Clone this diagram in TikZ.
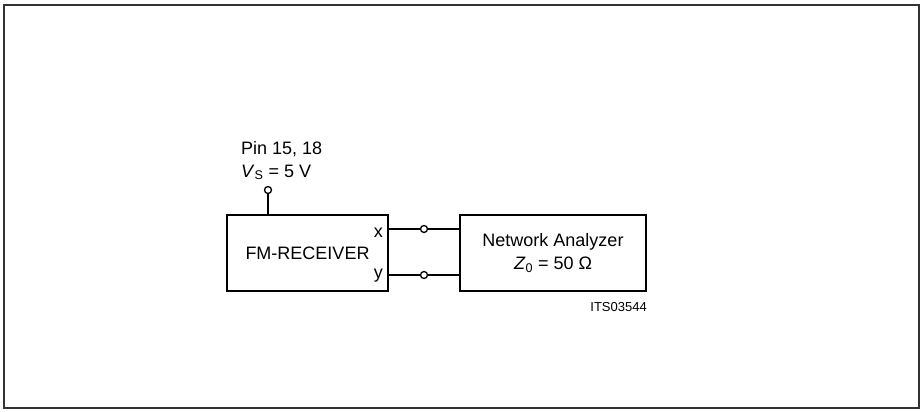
\documentclass[tikz,border=0pt]{standalone}
\usepackage{fontspec}
\setmainfont{Liberation Sans}
\usetikzlibrary{positioning, calc}

\begin{document}
\begin{tikzpicture}[
    x=1pt, y=-1pt,
    font=\fontsize{18}{21}\selectfont,
    block/.style={draw, line width=2pt, rectangle, minimum height=76pt, align=center, inner sep=0pt},
    term/.style={draw, line width=1.3pt, circle, fill=white, minimum size=7pt, inner sep=0pt},
    wire/.style={line width=1.5pt},
    lbl/.style={inner sep=0pt}
]
    \useasboundingbox (0,0) rectangle (923,412);
    \draw[line width=1.2pt, black!80] (4,5) rectangle (919,408);

    % Blocks
    \node[block, minimum width=161pt] (rx) at (307.5,253) {FM-RECEIVER};
    \node[block, minimum width=186pt] (na) [right=70pt of rx] {Network Analyzer\\[2pt]\textit{Z}\textsubscript{0} = 50 Ω};

    % Outputs
    \node[term] (tx) at ([xshift=35pt, yshift=24pt]rx.east) {};
    \node[term] (ty) at ([xshift=35pt, yshift=-22pt]rx.east) {};
    \node[lbl, anchor=base east] (lx) at ([xshift=-6pt, yshift=16pt]rx.east) {x};
    \node[lbl, anchor=base east] (ly) at ([xshift=-6pt, yshift=-25pt]rx.east) {y};

    \draw[wire] (tx -| rx.east) -- (tx) -- (tx -| na.west);
    \draw[wire] (ty -| rx.east) -- (ty) -- (ty -| na.west);

    % Supply
    \node[term] (tvs) at ([xshift=-39.5pt, yshift=24pt]rx.north) {};
    \draw[wire] (tvs) -- (tvs |- rx.north);
    \node[lbl, anchor=base west] (vs) at (241,177) {\textit{V}\textsubscript{S} = 5 V};
    \node[lbl, anchor=base west] (pin) at (241,154) {Pin 15, 18};

    % Figure id
    \node[lbl, font=\fontsize{13}{15}\selectfont] (id) [below=10pt of na.south east, anchor=north east] {ITS03544};
\end{tikzpicture}
\end{document}
